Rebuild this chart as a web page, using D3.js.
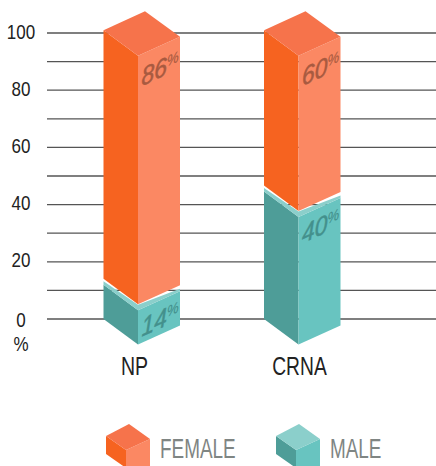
<!DOCTYPE html>
<meta charset="utf-8">
<style>
body { margin: 0; background: #fff; }
svg { display: block; }
text { font-family: "Liberation Sans", sans-serif; }
.grid { stroke: #555; stroke-width: 1.3px; }
.tick text { font-size: 20px; fill: #222; }
.cat { font-size: 25px; fill: #222; text-anchor: middle; }
.pct { font-size: 26px; font-style: italic; stroke-width: 0.5px; }
.pct tspan { font-size: 15px; stroke-width: 0.2px; }
.leg { font-size: 27px; fill: #7f8583; }
</style>
<svg width="436" height="466"></svg>
<script src="https://d3js.org/d3.v7.min.js"></script>
<script>

var categories = ["NP", "CRNA"];
var femaleLabels = [86, 60];
var maleLabels = [14, 40];
// heights as drawn in the picture, these differ a bit from the printed percents
var maleHeight = [12, 44.6];
var stackTop = [101, 101];
var gridTicks = [0, 10, 20, 30, 40, 50, 60, 70, 80, 90, 100];
var labelTicks = [0, 20, 40, 60, 80, 100];
var legendNames = ["FEMALE", "MALE"];

var orange = { left: "#f66320", right: "#fb8863", top: "#f6734b", text: "#a85a40" };
var teal = { left: "#4e9d98", right: "#68c4c0", top: "#8bcfcb", text: "#43908c" };

var svg = d3.select("svg");

var y = d3.scaleLinear().domain([0, 100]).range([319, 33]);
var x = d3.scalePoint().domain(categories).range([103.5, 264]);

// isometric offsets of a box, relative to its left corner
var frontDx = 34.5, frontDy = 25.5, rightDx = 76.5, rightDy = 6.5, backDx = 41.5, backDy = -19;

function pts(a) { return a.map(function(p) { return p.join(","); }).join(" "); }

function poly(g, points, fill) {
  g.append("polygon").attr("points", pts(points)).attr("fill", fill);
}

function box(g, x0, yTop, yBot, c) {
  poly(g, [[x0, yTop], [x0 + frontDx, yTop + frontDy], [x0 + frontDx, yBot + frontDy], [x0, yBot]], c.left);
  poly(g, [[x0 + frontDx, yTop + frontDy], [x0 + rightDx, yTop + rightDy], [x0 + rightDx, yBot + rightDy], [x0 + frontDx, yBot + frontDy]], c.right);
}

// no narrow font installed, so squeeze the glyphs
function squeeze(sel, k) {
  sel.each(function() {
    d3.select(this)
      .attr("textLength", this.getComputedTextLength() * k)
      .attr("lengthAdjust", "spacingAndGlyphs");
  });
}

// grid
svg.selectAll(".grid")
  .data(gridTicks)
  .enter().append("line")
    .attr("class", "grid")
    .attr("x1", 47)
    .attr("x2", 436)
    .attr("y1", function(d) { return y(d); })
    .attr("y2", function(d) { return y(d); });

// axis labels
var axis = svg.append("g")
    .attr("transform", "translate(21,0)")
    .call(d3.axisLeft(y).tickValues(labelTicks).tickSize(0));
axis.select(".domain").remove();
axis.selectAll(".tick text")
    .attr("x", 0)
    .attr("dy", null)
    .attr("y", function(d) { return d == 0 ? 7 : 5; })
    .attr("text-anchor", "middle")
    .call(squeeze, 0.85);

svg.append("text")
    .attr("x", 21)
    .attr("y", 351)
    .attr("text-anchor", "middle")
    .style("font-size", "20px")
    .style("fill", "#222")
    .text("%")
    .call(squeeze, 0.85);

// bars
categories.forEach(function(cat, i) {
  var g = svg.append("g");
  var x0 = x(cat);
  var yMale = y(maleHeight[i]);
  var yFemale = y(maleHeight[i] + 2.1);

  // male box, with the lighter cap showing under the female box
  box(g, x0, yMale, y(0), teal);
  poly(g, [[x0, yMale - 3.5], [x0 + frontDx, yMale + frontDy - 5.5], [x0 + rightDx, yMale + rightDy - 2.5],
           [x0 + rightDx, yMale + rightDy], [x0 + frontDx, yMale + frontDy], [x0, yMale]], teal.top);

  // female box, white edge separates it from the cap
  var yT = y(stackTop[i]);
  box(g, x0, yT, yFemale, orange);
  poly(g, [[x0, yT], [x0 + backDx, yT + backDy], [x0 + rightDx, yT + rightDy], [x0 + frontDx, yT + frontDy]], orange.top);

  var labels = [
    { v: femaleLabels[i], c: orange.text, py: yT + 56 },
    { v: maleLabels[i], c: teal.text, py: yMale + 52 }
  ];
  labels.forEach(function(l) {
    var t = g.append("text")
        .attr("class", "pct")
        .attr("transform", "matrix(0.88,-0.4,0,1," + (x0 + frontDx + 3.5) + "," + l.py + ")")
        .attr("fill", l.c)
        .attr("stroke", l.c)
        .text(l.v);
    t.append("tspan").attr("dy", -8).text("%");
  });

  svg.append("text")
      .attr("class", "cat")
      .attr("x", i == 0 ? x0 + 31 : x0 + 35.5)
      .attr("y", 375)
      .text(cat)
      .call(squeeze, i == 0 ? 0.78 : 0.77);
});

// legend
var legendX = [106, 276];
legendNames.forEach(function(name, i) {
  var g = svg.append("g");
  var c = i == 0 ? orange : teal;
  var lx = legendX[i], ly = 436;
  var dx = 20, dy = 14, rx = 44, ry = 3, bx = 23, by = -12;
  poly(g, [[lx, ly], [lx + dx, ly + dy], [lx + dx, ly + 32], [lx, ly + 32 - dy]], c.left);
  poly(g, [[lx + dx, ly + dy], [lx + rx, ly + ry], [lx + rx, ly + 32], [lx + dx, ly + 32]], c.right);
  poly(g, [[lx, ly], [lx + bx, ly + by], [lx + rx, ly + ry], [lx + dx, ly + dy]], c.top);
  svg.append("text")
      .attr("class", "leg")
      .attr("x", lx + 54)
      .attr("y", 458)
      .text(name)
      .call(squeeze, 0.7);
});

</script>
